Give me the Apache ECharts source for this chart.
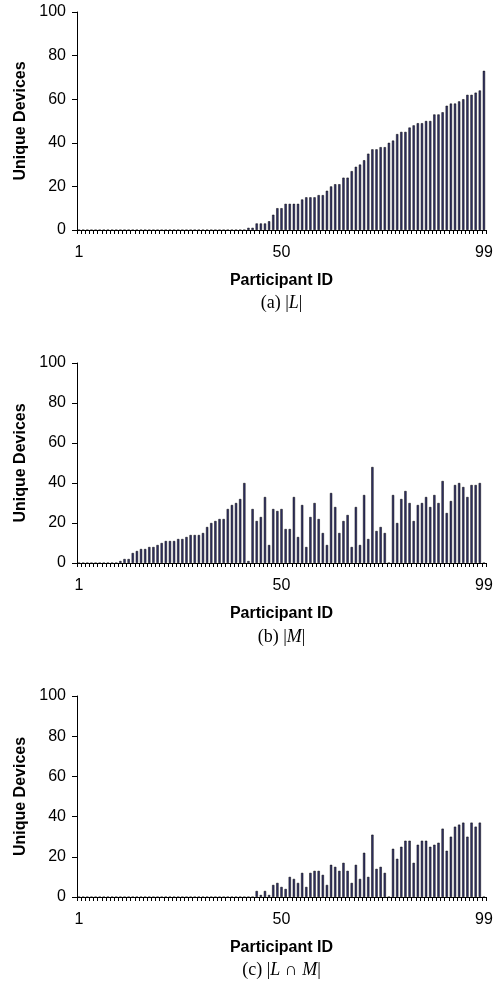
<!DOCTYPE html>
<html>
<head>
<meta charset="utf-8">
<script src="https://cdn.jsdelivr.net/npm/echarts@6/dist/echarts.min.js"></script>
<style>
html,body{margin:0;padding:0;background:#fff;}
#chart{width:496px;height:994px;}
</style>
</head>
<body>
<div id="chart"></div>
<script>
// Participant IDs (categories)
var participants = [1,2,3,4,5,6,7,8,9,10,11,12,13,14,15,16,17,18,19,20,21,22,23,24,25,26,27,28,29,30,31,32,33,34,35,36,37,38,39,40,41,42,43,44,45,46,47,48,49,50,51,52,53,54,55,56,57,58,59,60,61,62,63,64,65,66,67,68,69,70,71,72,73,74,75,76,77,78,79,80,81,82,83,84,85,86,87,88,89,90,91,92,93,94,95,96,97,98,99];

// (a) |L|
var valuesL = [0,0,0,0,0,0,0,0,0,0, 0,0,0,0,0,0,0,0,0,0, 0,0,0,0,0,0,0,0,0,0, 0,0,0,0,0,0,0,0,0,0, 0,
  1,1,3,3,3,4,7,10,10,12,12,12,12,14,15,15,15,16,16,18,20,21,21,24,24,27,29,30,32,35,37,37,38,38,40,41,44,45,45,47,48,49,49,50,50,53,53,54,57,58,58,59,60,62,62,63,64,73];

// (b) |M|
var valuesM = [0,0,0,0,0,0,0,0,0,0,
  1,2,2,5,6,7,7,8,8,9,10,11,11,11,12,12,13,14,14,14,15,18,20,21,22,22,27,29,30,32,40,
  1,27,21,23,33,9,27,26,27,17,17,33,13,29,8,23,30,22,15,9,35,28,15,21,24,8,28,9,34,12,48,16,18,15,0,
  34,20,32,36,30,21,29,30,33,28,34,30,41,25,31,39,40,38,33,39,39,40,0];

// (c) |L ∩ M|
var valuesLM = [0,0,0,0,0,0,0,0,0,0, 0,0,0,0,0,0,0,0,0,0, 0,0,0,0,0,0,0,0,0,0, 0,0,0,0,0,0,0,0,0,0, 0,0,0,
  3,1,3,1,6,7,5,4,10,9,7,12,5,12,13,13,11,6,16,15,13,17,13,7,16,9,22,10,31,14,15,12,0,
  24,19,25,28,28,17,26,28,28,25,26,27,34,23,30,35,36,37,30,37,35,37,0];

var xTickLabels = ['1','50','99'];
var yTicks = [0,20,40,60,80,100];
var captions = ['(a) |{i|L}|', '(b) |{i|M}|', '(c) |{i|L} \u2229 {i|M}|'];
var yAxisTitle = 'Unique Devices';
var xAxisTitle = 'Participant ID';

var panels = [
  {data: valuesL, top: 12, height: 218, caption: captions[0], capTop: 294},
  {data: valuesM, top: 363, height: 200, caption: captions[1], capTop: 628},
  {data: valuesLM, top: 696, height: 201, caption: captions[2], capTop: 961}
];

var sans = '"Liberation Sans", Arial, Helvetica, sans-serif';
var serif = '"Liberation Serif", "Times New Roman", serif';
var gridLeft = 77, gridWidth = 409;

var grids = [], xAxes = [], yAxes = [], series = [], titles = [];
panels.forEach(function(p, i){
  grids.push({left: gridLeft, top: p.top, width: gridWidth, height: p.height, containLabel: false});
  xAxes.push({
    type: 'category', gridIndex: i, data: participants.map(String),
    boundaryGap: true,
    axisLine: {show: true, lineStyle: {color: '#000', width: 1}},
    axisTick: {show: true, interval: 0, length: 4, lineStyle: {color: '#000', width: 1}},
    axisLabel: {
      interval: function(idx, val){ return xTickLabels.indexOf(val) >= 0; },
      color: '#000', fontFamily: sans, fontSize: 16, margin: 15
    },
    splitLine: {show: false},
    name: xAxisTitle, nameLocation: 'middle', nameGap: 43,
    nameTextStyle: {color: '#000', fontFamily: sans, fontSize: 16, fontWeight: 'bold'}
  });
  yAxes.push({
    type: 'value', gridIndex: i, min: yTicks[0], max: yTicks[yTicks.length-1], interval: 20,
    axisLine: {show: true, lineStyle: {color: '#000', width: 1}},
    axisTick: {show: true, length: 5, lineStyle: {color: '#000', width: 1}},
    axisLabel: {color: '#000', fontFamily: sans, fontSize: 16, margin: 11},
    splitLine: {show: false},
    name: yAxisTitle, nameLocation: 'middle', nameGap: 47,
    nameTextStyle: {color: '#000', fontFamily: sans, fontSize: 16, fontWeight: 'bold'}
  });
  series.push({
    type: 'bar', xAxisIndex: i, yAxisIndex: i, data: p.data,
    barWidth: '55%', silent: true, animation: false,
    itemStyle: {color: '#33336a', borderColor: '#000', borderWidth: 0.5}
  });
  titles.push({
    text: p.caption, left: gridLeft + gridWidth/2, top: p.capTop, textAlign: 'center', padding: 0,
    textStyle: {
      fontFamily: serif, fontSize: 18, fontWeight: 'normal', color: '#000',
      rich: {i: {fontFamily: serif, fontSize: 18, fontStyle: 'italic', color: '#000'}}
    }
  });
});

var chart = echarts.init(document.getElementById('chart'), null, {renderer: 'canvas'});
chart.setOption({
  animation: false,
  backgroundColor: '#fff',
  title: titles,
  grid: grids,
  xAxis: xAxes,
  yAxis: yAxes,
  series: series
});
</script>
</body>
</html>
